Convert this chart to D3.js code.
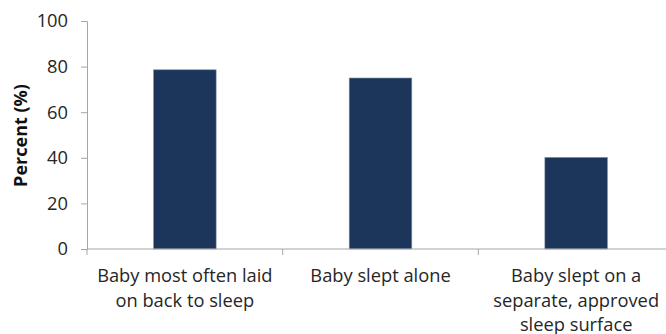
<!DOCTYPE html>
<html>
<head>
<meta charset="utf-8">
<script src="https://cdn.jsdelivr.net/npm/d3@7"></script>
<style>
  html, body { margin: 0; padding: 0; background: #fff; }
  svg { display: block; font-family: "Open Sans", sans-serif; }
</style>
</head>
<body>
<svg id="chart" width="666" height="334"></svg>
<script>
// Safe-sleep practices, percent of babies
const categories = [
  ["Baby most often laid", "on back to sleep"],
  ["Baby slept alone"],
  ["Baby slept on a", "separate, approved", "sleep surface"]
];
const values = [78.6, 75.0, 40.2];
const yTicks = [0, 20, 40, 60, 80, 100];

const svg = d3.select("#chart");
const margin = { left: 87, top: 21, right: -8, bottom: 85 };
const width = 666 - margin.left - margin.right;
const height = 334 - margin.top - margin.bottom;

const axisColor = "#a6a6a6";
const textColor = "#262626";
const barColor = "#1c355b";
const fontSize = "18.3px";

const g = svg.append("g").attr("transform", `translate(${margin.left},${margin.top})`);

const x = d3.scaleBand()
  .domain(d3.range(categories.length))
  .range([0, width])
  .paddingInner(0.68)
  .paddingOuter(0.34);

const y = d3.scaleLinear().domain([0, 100]).range([height, 0]);

// bars
g.selectAll("rect.bar")
  .data(values)
  .join("rect")
  .attr("class", "bar")
  .attr("x", (d, i) => x(i))
  .attr("width", x.bandwidth())
  .attr("y", d => y(d))
  .attr("height", d => height - y(d))
  .attr("fill", barColor)
  .attr("stroke", "#8595ab")
  .attr("stroke-width", 0.6);

// y axis
const yAxis = g.append("g")
  .call(d3.axisLeft(y).tickValues(yTicks).tickSize(6).tickPadding(13).tickFormat(d3.format("d")));
yAxis.select(".domain").attr("stroke", axisColor);
yAxis.selectAll(".tick line").attr("stroke", axisColor);
yAxis.selectAll(".tick text")
  .attr("fill", textColor)
  .style("font-size", fontSize)
  .style("font-family", "'Open Sans', sans-serif");

// x axis with ticks at category boundaries
const step = x.step();
const boundaries = d3.range(categories.length + 1).map(i => i * step);
const xAxisG = g.append("g").attr("transform", `translate(0,${height})`);
xAxisG.append("line")
  .attr("x1", 0).attr("x2", width)
  .attr("stroke", axisColor).attr("stroke-width", 1.2);
xAxisG.selectAll("line.tk")
  .data(boundaries)
  .join("line")
  .attr("class", "tk")
  .attr("x1", d => d).attr("x2", d => d)
  .attr("y1", 0).attr("y2", 6)
  .attr("stroke", axisColor);

// category labels
const labels = xAxisG.selectAll("text.cat")
  .data(categories)
  .join("text")
  .attr("class", "cat")
  .attr("text-anchor", "middle")
  .attr("fill", textColor)
  .style("font-size", fontSize)
  .attr("transform", (d, i) => `translate(${x(i) + x.bandwidth() / 2},0)`);
labels.selectAll("tspan")
  .data(d => d)
  .join("tspan")
  .attr("x", 0)
  .attr("y", (d, i) => 33 + i * 24.5)
  .text(d => d);

// y axis title
svg.append("text")
  .attr("transform", `translate(26.5,${margin.top + height / 2 + 0.5}) rotate(-90)`)
  .attr("text-anchor", "middle")
  .attr("fill", "#111")
  .style("font-size", "18px")
  .style("font-weight", "bold")
  .text("Percent (%)");
</script>
</body>
</html>
